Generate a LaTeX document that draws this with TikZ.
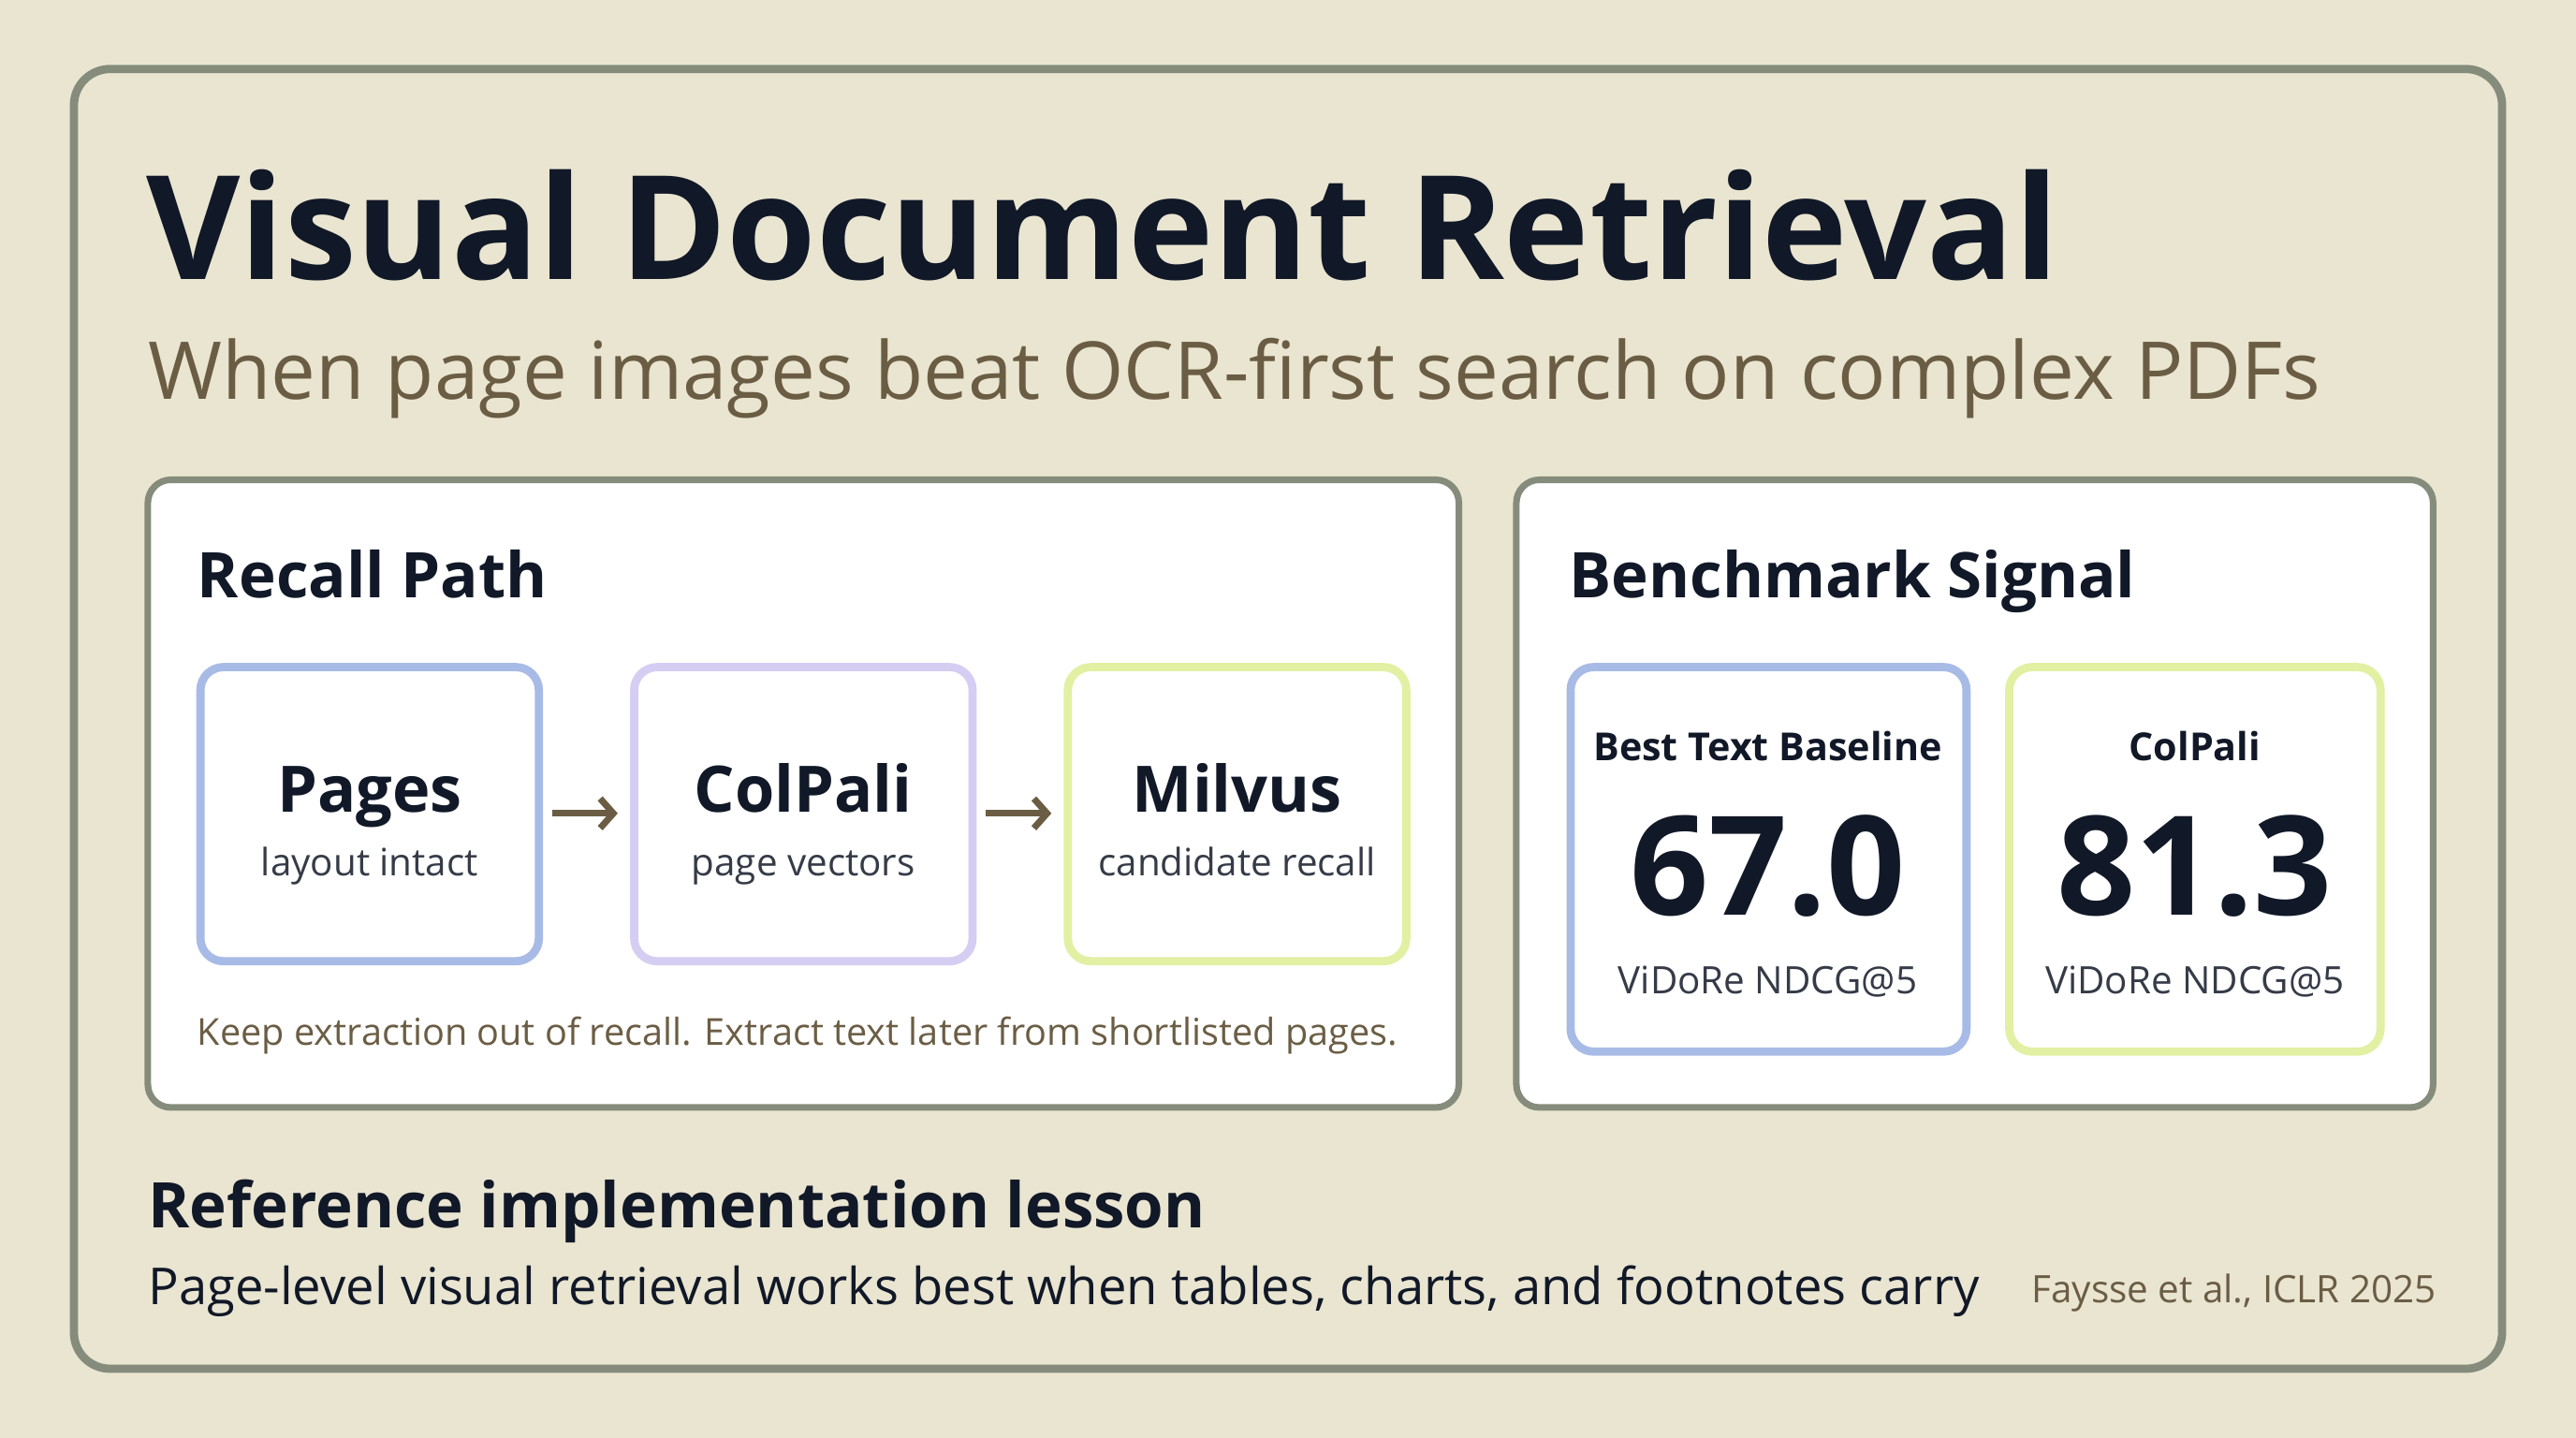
\documentclass[tikz,border=0pt]{standalone}
\usepackage{fontspec}
\setmainfont{Open Sans}
\definecolor{bg}{HTML}{E9E5D1}
\definecolor{frame}{HTML}{858C7C}
\definecolor{navy}{HTML}{111827}
\definecolor{brown}{HTML}{6B5D44}
\definecolor{cblue}{HTML}{A8BBE6}
\definecolor{clav}{HTML}{D6CDF3}
\definecolor{clime}{HTML}{E1F0A2}
\tikzset{
 panel/.style={draw=frame,line width=4pt,fill=white,rounded corners=14pt},
 card/.style={line width=5pt,fill=white,rounded corners=14pt},
 ttl/.style={anchor=base west,text=navy,font=\bfseries\fontsize{38.3}{42}\selectfont},
 ctitle/.style={anchor=base,text=navy,font=\bfseries\fontsize{39}{44}\selectfont},
 csub/.style={anchor=base,text=navy!85,font=\fontsize{23}{26}\selectfont},
 arr/.style={-{Straight Barb[length=8pt,width=18pt]},draw=brown,line width=4pt},
}
\usetikzlibrary{arrows.meta}
\begin{document}
\begin{tikzpicture}[x=1pt,y=-1pt]
\useasboundingbox (0,0) rectangle (1568,875);
\fill[bg] (0,0) rectangle (1568,875);
\draw[draw=frame,line width=5pt,rounded corners=22pt] (45,42) rectangle (1523,833);
\node[anchor=base west,text=navy,inner sep=0,font=\bfseries\fontsize{88}{92}\selectfont] (title) at (89,170) {Visual Document Retrieval};
\node[anchor=base west,text=brown,inner sep=0,font=\fontsize{48.6}{52}\selectfont] (sub) at (90,243) {When page images beat OCR-first search on complex PDFs};
% left panel
\draw[panel] (90,292) rectangle (888,674);
\node[ttl,inner sep=0] (rp) at (120,364) {Recall Path};
\draw[card,draw=cblue] (122,406) rectangle (328,585);
\draw[card,draw=clav] (386,406) rectangle (592,585);
\draw[card,draw=clime] (650,406) rectangle (856,585);
\node[ctitle] (p1) at (225,494) {Pages};
\node[csub] (p2) at (225,533) {layout intact};
\node[ctitle] (c1) at (489,494) {ColPali};
\node[csub] (c2) at (489,533) {page vectors};
\node[ctitle] (m1) at (753,494) {Milvus};
\node[csub] (m2) at (753,533) {candidate recall};
\coordinate (a1) at (336,495); \coordinate (a2) at (376,495);
\coordinate (b1) at (600,495); \coordinate (b2) at (640,495);
\draw[arr] (a1) -- (a2);
\draw[arr] (b1) -- (b2);
\node[anchor=base west,inner sep=0,text=brown,font=\fontsize{22.6}{26}\selectfont] (cap) at (120,636) {Keep extraction out of recall. Extract text later from shortlisted pages.};
% right panel
\draw[panel] (923,292) rectangle (1481,674);
\node[ttl,inner sep=0] (bs) at (955,364) {Benchmark Signal};
\draw[card,draw=cblue] (956,406) rectangle (1197,640);
\draw[card,draw=clime] (1223,406) rectangle (1449,640);
\node[anchor=base,text=navy,font=\bfseries\fontsize{23.5}{28}\selectfont] (t1) at (1076,463) {Best Text Baseline};
\node[anchor=base,text=navy,font=\bfseries\fontsize{84}{90}\selectfont] (n1) at (1076,557) {67.0};
\node[csub] (v1) at (1076,605) {ViDoRe NDCG@5};
\node[anchor=base,text=navy,font=\bfseries\fontsize{23.5}{28}\selectfont] (t2) at (1336,463) {ColPali};
\node[anchor=base,text=navy,font=\bfseries\fontsize{84}{90}\selectfont] (n2) at (1336,557) {81.3};
\node[csub] (v2) at (1336,605) {ViDoRe NDCG@5};
% lesson
\node[ttl,inner sep=0] (ls) at (90,747) {Reference implementation lesson};
\node[anchor=base west,inner sep=0,text=navy,font=\fontsize{31}{34}\selectfont] (lt) at (90,794) {Page-level visual retrieval works best when tables, charts, and footnotes carry};
\node[anchor=base east,inner sep=0,text=brown,font=\fontsize{23}{26}\selectfont] (cite) at (1483,793) {Faysse et al., ICLR 2025};
\end{tikzpicture}
\end{document}
